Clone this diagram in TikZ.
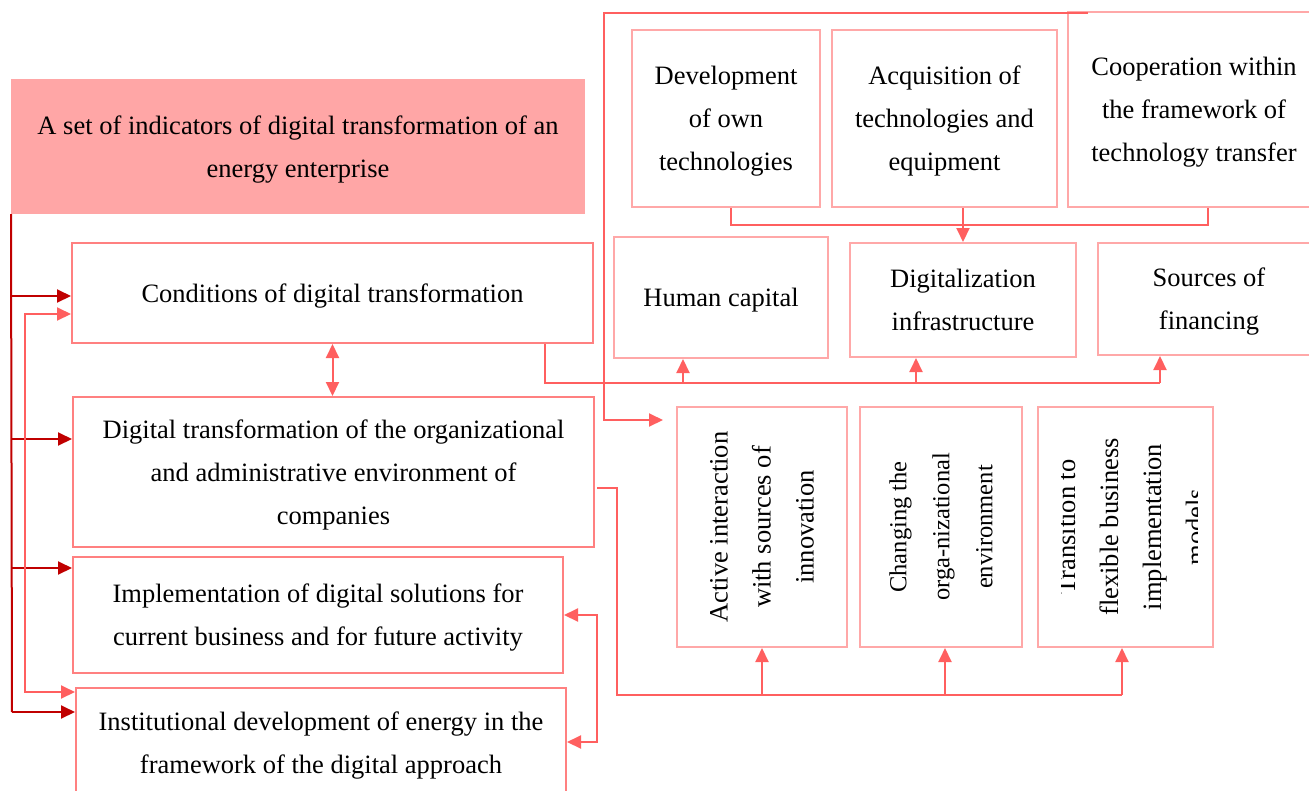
\documentclass[tikz,border=0pt]{standalone}
\usepackage{fontspec}
\setmainfont{Liberation Serif}
\usetikzlibrary{arrows.meta}
\definecolor{headfill}{HTML}{FFA6A6}
\definecolor{boxline}{HTML}{FF8080}
\definecolor{paleline}{HTML}{FFA8A8}
\definecolor{linkred}{HTML}{FF5F5F}
\definecolor{busred}{HTML}{C00000}
\begin{document}
\begin{tikzpicture}[x=1pt, y=-1pt, line width=2pt,
   box/.style={draw=boxline, inner sep=0pt, align=center, text depth=-2pt, font=\fontsize{26.5}{43}\selectfont},
   palebox/.style={box, draw=paleline},
   rottext/.style={rotate=90, inner sep=0pt, align=center, font=\fontsize{26.5}{43}\selectfont},
   tip/.tip={Triangle[length=14pt,width=13pt]},
   link/.style={draw=linkred, -tip},
   twolink/.style={draw=linkred, tip-tip},
   plainlink/.style={draw=linkred},
   bus/.style={draw=busred, -tip}]
	  \useasboundingbox (0,0) rectangle (1309,790);

	  % left column
	  \node [box, draw=headfill, fill=headfill, minimum width=572pt, minimum height=133pt] (head) at (298,146.5) {A set of indicators of digital transformation of an\\energy enterprise};
	  \node [box, minimum width=521pt, minimum height=100pt] (cond) at (332.5,293) {Conditions of digital transformation};
	  \node [box, minimum width=521pt, minimum height=150pt] (dtrans) at (333.5,472) {Digital transformation of the organizational\\and administrative environment of\\companies};
	  \node [box, minimum width=490pt, minimum height=116pt] (impl) at (318,615) {Implementation of digital solutions for\\current business and for future activity};
	  \node [box, text depth=2pt, minimum width=490pt, minimum height=112pt] (inst) at (321,744) {Institutional development of energy in the\\framework of the digital approach};

	  % upper right
	  \node [palebox, minimum width=188pt, minimum height=177pt] (devown) at (726,118.5) {Development\\of own\\technologies};
	  \node [palebox, minimum width=225pt, minimum height=177pt] (acq) at (944.5,118.5) {Acquisition of\\technologies and\\equipment};
	  \node [palebox, minimum width=252pt, minimum height=195pt] (coop) at (1194,109.5) {Cooperation within\\the framework of\\technology transfer};
	  \node [palebox, minimum width=214pt, minimum height=121pt] (human) at (721,297.5) {Human capital};
	  \node [palebox, minimum width=226pt, minimum height=114pt] (digi) at (963,300) {Digitalization\\infrastructure};
	  \node [palebox, minimum width=222pt, minimum height=112pt] (finance) at (1209,299) {Sources of\\financing};

	  % lower right
	  \node [palebox, minimum width=170pt, minimum height=240pt] (active) at (762,527) {};
	  \node [palebox, minimum width=162pt, minimum height=240pt] (change) at (941,527) {};
	  \node [palebox, minimum width=175pt, minimum height=240pt] (trans) at (1125.5,527) {};
	  \node [rottext] (activetxt) at (active) {Active interaction\\with sources of\\innovation};
	  \node [rottext, font=\fontsize{24.5}{43}\selectfont] (changetxt) at (change) {Changing the\\orga-nizational\\environment};
	  \begin{scope}
	    \clip (1061,410) rectangle (1197,645);
	    \node [rottext] (transtxt) at (1131,527) {Transition to\\flexible business\\implementation\\models};
	  \end{scope}

	  % buses on the left
	  \coordinate (busend) at (12,712);
	  \draw [draw=busred] (head.south west) -- (busend);
	  \foreach \bx/\y in {cond/296, dtrans/439, impl/568, inst/712}{
	    \coordinate (bt) at (12,\y);
	    \draw [bus] (bt) -- (bt -| \bx.west);
	  }
	  \coordinate (lbtop) at (25,314);
	  \coordinate (lbbot) at (25,692);
	  \draw [twolink] (lbtop -| cond.west) -- (lbtop) -- (lbbot) -- (lbbot -| inst.west);
	  \draw [twolink] (cond.south) -- (cond.south |- dtrans.north);
	  \coordinate (rbtop) at (597,615);
	  \coordinate (rbbot) at (597,742);
	  \draw [twolink] (impl.east) -- (rbtop) -- (rbbot) -- (rbbot -| inst.east);

	  % frame line to the interaction box
	  \coordinate (frtr) at (1088,13);
	  \coordinate (frtl) at (604,13);
	  \coordinate (fr) at (604,420);
	  \draw [link, shorten >=13pt] (frtr) -- (frtl) -- (fr) -- (fr -| active.west);

	  % technology sources to infrastructure
	  \coordinate (tc) at (731,225);
	  \draw [plainlink] (tc |- devown.south) -- (tc) -- ([xshift=14pt]coop.south |- tc) -- ([xshift=14pt]coop.south);
	  \draw [link] (digi.north |- acq.south) -- (digi.north);

	  % conditions to resources
	  \coordinate (cb) at (545,383);
	  \draw [plainlink] (cb |- cond.south) -- (cb) -- ([xshift=-49pt]finance.south |- cb);
	  \foreach \n/\dx in {human/-38, digi/-47, finance/-49}
	    \draw [link] ([xshift=\dx pt]\n.south |- cb) -- ([xshift=\dx pt]\n.south);

	  % organizational environment to directions
	  \coordinate (da) at (597,488);
	  \coordinate (db) at (617,695);
	  \draw [plainlink] (da) -- (da -| db) -- (db) -- ([xshift=-3.5pt]trans.south |- db);
	  \foreach \n/\dx in {active/0, change/4, trans/-3.5}
	    \draw [link] ([xshift=\dx pt]\n.south |- db) -- ([xshift=\dx pt]\n.south);

	\end{tikzpicture}
\end{document}
